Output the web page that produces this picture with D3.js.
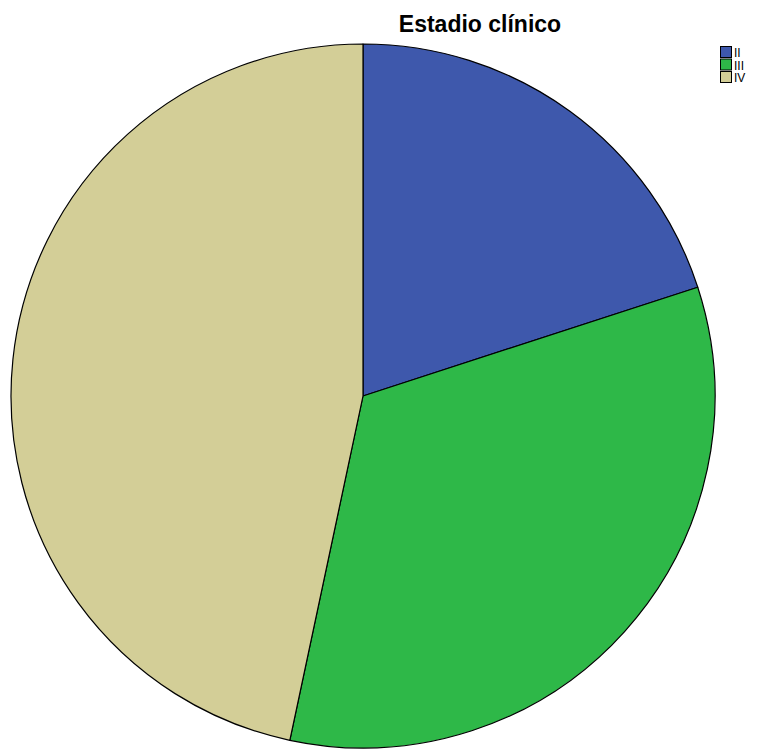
<!DOCTYPE html>
<html>
<head>
<meta charset="utf-8">
<script src="https://cdn.jsdelivr.net/npm/d3@7"></script>
<style>
  html, body { margin: 0; padding: 0; background: #fff; }
  svg { display: block; }
</style>
</head>
<body>
<svg id="chart" width="757" height="749"></svg>
<script>
// Clinical stage distribution
const categories = ["II", "III", "IV"];
const counts = [3, 5, 7];
const colors = ["#3E58AC", "#2EB848", "#D3CE97"];
const chartTitle = "Estadio clínico";

const svg = d3.select("#chart");
const W = 757, H = 749;
const cx = 363, cy = 396, r = 352;

svg.append("rect").attr("width", W).attr("height", H).attr("fill", "#fff");

const pie = d3.pie().sort(null).value(d => d.value);
const arc = d3.arc().innerRadius(0).outerRadius(r);
const data = categories.map((c, i) => ({ name: c, value: counts[i], color: colors[i] }));

svg.append("g")
  .attr("transform", `translate(${cx},${cy})`)
  .selectAll("path")
  .data(pie(data))
  .join("path")
  .attr("d", arc)
  .attr("fill", d => d.data.color)
  .attr("stroke", "#000")
  .attr("stroke-width", 1.2)
  .attr("stroke-linejoin", "round");

svg.append("text")
  .attr("x", 480).attr("y", 32)
  .attr("text-anchor", "middle")
  .attr("font-family", "Liberation Sans, Arial, sans-serif")
  .attr("font-weight", "bold")
  .attr("font-size", 23)
  .attr("fill", "#000")
  .text(chartTitle);

// Legend
const legend = svg.append("g").attr("transform", "translate(720,46)");
const items = legend.selectAll("g").data(data).join("g")
  .attr("transform", (d, i) => `translate(0,${i * 12.5})`);
items.append("rect")
  .attr("x", 0.5).attr("y", 0.5).attr("width", 11).attr("height", 11)
  .attr("fill", d => d.color).attr("stroke", "#000").attr("stroke-width", 1);
items.append("text")
  .attr("x", 14).attr("y", 11)
  .attr("font-family", "Liberation Sans Narrow, Liberation Sans, Arial, sans-serif")
  .attr("font-size", 12)
  .attr("fill", "#000")
  .text(d => d.name);
</script>
</body>
</html>
